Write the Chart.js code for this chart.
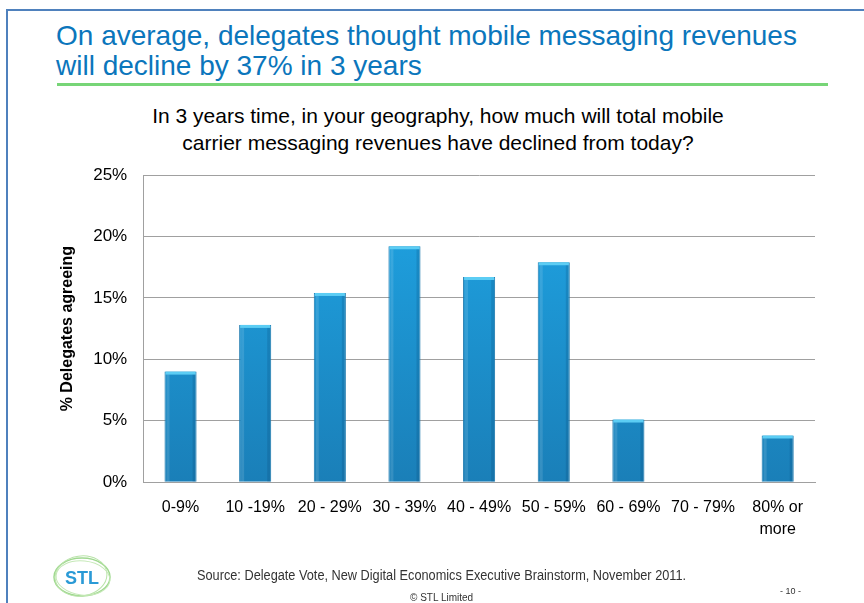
<!DOCTYPE html>
<html>
<head>
<meta charset="utf-8">
<script src="https://cdn.jsdelivr.net/npm/chart.js@4.4.1/dist/chart.umd.min.js"></script>
<style>
  body { margin: 0; background: #fff; width: 864px; height: 603px; overflow: hidden; position: relative; font-family: 'Liberation Sans', Arial, sans-serif; }
  #frameTop { position: absolute; left: 6px; top: 9px; width: 858px; height: 2px; background: #4f81bd; }
  #frameLeft { position: absolute; left: 6px; top: 9px; width: 2px; height: 594px; background: #4f81bd; }
  #titulo { position: absolute; left: 56px; top: 21px; color: #0b76bc; font-size: 28px; line-height: 30px; white-space: nowrap; }
  #linhaVerde { position: absolute; left: 57px; top: 83px; width: 771px; height: 3px; background: #77d577; }
  #pergunta { position: absolute; left: 100px; top: 102px; width: 676px; text-align: center; font-size: 21px; line-height: 27px; color: #000; }
  #grafico { position: absolute; left: 0; top: 0; width: 864px; height: 603px; }
  #logo { position: absolute; left: 51px; top: 555px; }
  #fonte { position: absolute; left: 197px; top: 567px; font-size: 14px; color: #333; white-space: nowrap; transform: scaleX(0.91); transform-origin: left center; }
  #copy { position: absolute; left: 410px; top: 592px; font-size: 10px; color: #333; }
  #pagina { position: absolute; left: 780px; top: 586px; font-size: 9px; color: #333; }
</style>
</head>
<body>
<div id="frameTop"></div>
<div id="frameLeft"></div>
<div id="titulo">On average, delegates thought mobile messaging revenues<br>will decline by 37% in 3 years</div>
<div id="linhaVerde"></div>
<div id="pergunta">In 3 years time, in your geography, how much will total mobile<br>carrier messaging revenues have declined from today?</div>
<div id="grafico"><canvas id="meuGrafico"></canvas></div>
<svg id="logo" width="62" height="44" viewBox="0 0 62 44">
  <ellipse cx="31" cy="22" rx="28" ry="19" fill="none" stroke="#9fd88f" stroke-width="1.5"/>
  <ellipse cx="30" cy="21" rx="26" ry="20" fill="none" stroke="#b8e3a8" stroke-width="1" transform="rotate(-8 30 21)"/>
  <ellipse cx="32" cy="23" rx="27" ry="17" fill="none" stroke="#c6e9b8" stroke-width="1" transform="rotate(6 32 23)"/>
  <text x="31" y="29" text-anchor="middle" font-family="Liberation Sans, Arial, sans-serif" font-weight="bold" font-size="18" fill="#2a9ad6">STL</text>
</svg>
<div id="fonte">Source: Delegate Vote, New Digital Economics Executive Brainstorm, November 2011.</div>
<div id="copy">© STL Limited</div>
<div id="pagina">- 10 -</div>

<script>
// dados
var categorias = ['0-9%', '10 -19%', '20 - 29%', '30 - 39%', '40 - 49%', '50 - 59%', '60 - 69%', '70 - 79%', ['80% or', 'more']];
var valores = [9.0, 12.8, 15.4, 19.2, 16.7, 17.9, 5.1, 0, 3.8];
var ticksY = [0, 5, 10, 15, 20, 25];

var fonte = "'Liberation Sans', Arial, sans-serif";

// degrade das barras
function corBarra(context) {
    var chart = context.chart;
    var area = chart.chartArea;
    if (!area) return '#1e9ad8';
    var g = chart.ctx.createLinearGradient(0, area.top, 0, area.bottom);
    g.addColorStop(0, '#1fa6e6');
    g.addColorStop(1, '#1a7fb8');
    return g;
}

// brilho no topo de cada barra
var brilhoTopo = {
    id: 'brilhoTopo',
    afterDatasetsDraw: function (chart) {
        var ctx = chart.ctx;
        var meta = chart.getDatasetMeta(0);
        meta.data.forEach(function (bar, i) {
            if (!valores[i]) return;
            var w = bar.width;
            var x0 = bar.x - w / 2;
            ctx.save();
            ctx.fillStyle = '#5ccdf4';
            ctx.fillRect(x0 + 1, bar.y, w - 2, 3);
            ctx.fillStyle = 'rgba(255,255,255,0.12)';
            ctx.fillRect(x0 + 2, bar.y + 3, 3, bar.base - bar.y - 3);
            ctx.fillStyle = 'rgba(0,40,80,0.15)';
            ctx.fillRect(x0 + w - 4, bar.y + 3, 3, bar.base - bar.y - 3);
            ctx.restore();
        });
    }
};

var ctx1 = document.getElementById('meuGrafico').getContext('2d');
var meuGrafico = new Chart(ctx1, {
    type: 'bar',
    data: {
        labels: categorias,
        datasets: [{
            label: '% Delegates agreeing',
            data: valores,
            backgroundColor: corBarra,
            borderColor: '#1877ad',
            borderWidth: 1,
            borderSkipped: 'bottom',
            categoryPercentage: 1,
            barPercentage: 0.43
        }]
    },
    options: {
        responsive: true,
        maintainAspectRatio: false,
        animation: false,
        layout: {
            padding: { left: 55, right: 49, top: 175, bottom: 48 }
        },
        plugins: {
            legend: { display: false },
            tooltip: { enabled: false }
        },
        scales: {
            x: {
                grid: { display: false, drawTicks: false },
                border: { color: '#a0a0a0', width: 1 },
                ticks: {
                    color: '#000',
                    font: { family: fonte, size: 16, lineHeight: 1.4 },
                    padding: 14,
                    maxRotation: 0,
                    autoSkip: false
                }
            },
            y: {
                min: 0,
                max: 25,
                afterBuildTicks: function (axis) {
                    axis.ticks = ticksY.map(function (v) { return { value: v }; });
                },
                grid: { color: '#a0a0a0', lineWidth: 1, drawTicks: false },
                border: { color: '#a0a0a0', width: 1 },
                ticks: {
                    color: '#000',
                    font: { family: fonte, size: 17 },
                    padding: 16,
                    callback: function (v) { return v + '%'; }
                },
                title: {
                    display: true,
                    text: '% Delegates agreeing',
                    color: '#000',
                    font: { family: fonte, size: 16, weight: 'bold' },
                    padding: { top: 3, bottom: 0 }
                }
            }
        }
    },
    plugins: [brilhoTopo]
});
</script>
</body>
</html>
